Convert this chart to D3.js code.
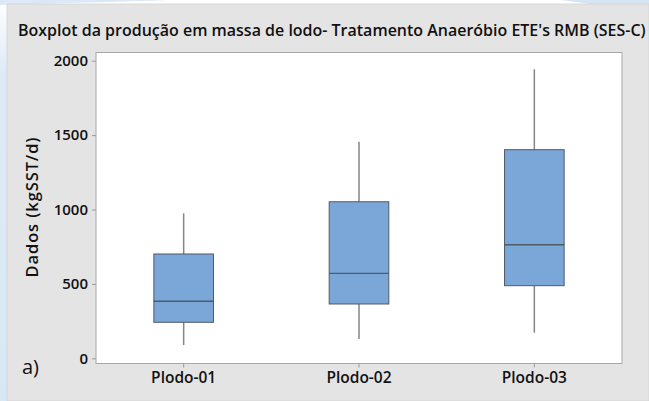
<!DOCTYPE html>
<html>
<head>
<meta charset="utf-8">
<script src="https://cdn.jsdelivr.net/npm/d3@7"></script>
<style>
  html, body { margin: 0; padding: 0; background: #ffffff; }
  svg { display: block; }
  text { font-family: "Open Sans", "DejaVu Sans", sans-serif; fill: #111; }
</style>
</head>
<body>
<svg id="chart" width="649" height="401"></svg>
<script>
// Sludge production summary per group (kgSST/d)
const categories = ["Plodo-01", "Plodo-02", "Plodo-03"];
const whiskerLow  = [89, 130, 172];
const quartile1   = [242, 365, 488];
const medians     = [383, 571, 763];
const quartile3   = [701, 1052, 1402];
const whiskerHigh = [974, 1456, 1942];
const yTicks = [0, 500, 1000, 1500, 2000];

const titleText = "Boxplot da produção em massa de lodo- Tratamento Anaeróbio ETE's RMB (SES-C)";
const yLabelText = "Dados (kgSST/d)";
const panelTag = "a)";

const W = 649, H = 401;
const plot = { left: 96, right: 622, top: 52.5, bottom: 363.5 };

const svg = d3.select("#chart");

// soft blue page glow behind the grey panel
const defs = svg.append("defs");
const g1 = defs.append("linearGradient").attr("id", "sideGlow").attr("x1", 0).attr("y1", 0).attr("x2", 0).attr("y2", 1);
g1.append("stop").attr("offset", "0%").attr("stop-color", "#ffffff");
g1.append("stop").attr("offset", "18%").attr("stop-color", "#dfeaf6");
g1.append("stop").attr("offset", "100%").attr("stop-color", "#d9e7f5");
svg.append("rect").attr("x", 0).attr("y", 0).attr("width", 8).attr("height", H).attr("fill", "url(#sideGlow)");
svg.append("path")
  .attr("d", "M0,0 L170,0 C120,2 60,3 0,5 Z")
  .attr("fill", "#dce8f5");
svg.append("path")
  .attr("d", "M560,0 L649,0 L649,30 C630,12 600,4 560,0 Z")
  .attr("fill", "#d6e5f4");

// grey chart panel
svg.append("rect")
  .attr("x", 7).attr("y", 4)
  .attr("width", W - 7).attr("height", H - 4)
  .attr("fill", "#e4e4e4")
  .attr("stroke", "#d2d2d2").attr("stroke-width", 0.8);

// scales
const x = d3.scaleBand()
  .domain(categories)
  .range([plot.left, plot.right])
  .paddingInner(0.66)
  .paddingOuter(0.33);

const y = d3.scaleLinear()
  .domain([0, 2000])
  .range([358.3, 60.7]);

// plot area
svg.append("rect")
  .attr("x", plot.left).attr("y", plot.top)
  .attr("width", plot.right - plot.left).attr("height", plot.bottom - plot.top)
  .attr("fill", "#ffffff")
  .attr("stroke", "#a8a8a8").attr("stroke-width", 1);

// y axis
const yAxis = svg.append("g")
  .attr("transform", `translate(${plot.left},0)`)
  .call(d3.axisLeft(y).tickValues(yTicks).tickSize(4).tickPadding(4).tickFormat(d3.format("d")));
yAxis.select(".domain").remove();
yAxis.selectAll(".tick line").attr("stroke", "#9a9a9a");
yAxis.selectAll(".tick text")
  .attr("font-size", 15).attr("font-weight", 600)
  .attr("font-family", "'Open Sans', sans-serif").attr("fill", "#111");

// x axis
const xAxis = svg.append("g")
  .attr("transform", `translate(0,${plot.bottom})`)
  .call(d3.axisBottom(x).tickSize(4).tickPadding(4));
xAxis.select(".domain").remove();
xAxis.selectAll(".tick line").attr("stroke", "#9a9a9a");
xAxis.selectAll(".tick text")
  .attr("font-size", 15.5).attr("font-weight", 600)
  .attr("font-family", "'Open Sans', sans-serif").attr("fill", "#111");

// boxes
const stats = categories.map((c, i) => ({
  cat: c, lo: whiskerLow[i], q1: quartile1[i], med: medians[i], q3: quartile3[i], hi: whiskerHigh[i]
}));

const box = svg.append("g").selectAll("g").data(stats).join("g");
const cx = d => x(d.cat) + x.bandwidth() / 2;

box.append("line")
  .attr("x1", cx).attr("x2", cx)
  .attr("y1", d => y(d.hi)).attr("y2", d => y(d.q3))
  .attr("stroke", "#858585").attr("stroke-width", 1.5);
box.append("line")
  .attr("x1", cx).attr("x2", cx)
  .attr("y1", d => y(d.q1)).attr("y2", d => y(d.lo))
  .attr("stroke", "#858585").attr("stroke-width", 1.5);
box.append("rect")
  .attr("x", d => x(d.cat)).attr("width", x.bandwidth())
  .attr("y", d => y(d.q3)).attr("height", d => y(d.q1) - y(d.q3))
  .attr("fill", "#7aa6d8")
  .attr("stroke", "#4f5b66").attr("stroke-width", 1);
box.append("line")
  .attr("x1", d => x(d.cat)).attr("x2", d => x(d.cat) + x.bandwidth())
  .attr("y1", d => y(d.med)).attr("y2", d => y(d.med))
  .attr("stroke", "#4f5b66").attr("stroke-width", 1.4);

// title, fitted to its span
const title = svg.append("text")
  .attr("x", 18).attr("y", 36)
  .attr("font-size", 14).attr("font-weight", 600)
  .text(titleText);
const tw = title.node().getComputedTextLength();
title.attr("font-size", 14 * 628 / tw);

// y label, spread to its span with a little letter spacing
const yLabel = svg.append("text")
  .attr("transform", "translate(38,207) rotate(-90)")
  .attr("text-anchor", "middle")
  .attr("font-size", 16.5).attr("font-weight", 600)
  .text(yLabelText);
const yw = yLabel.node().getComputedTextLength();
yLabel.attr("letter-spacing", Math.max(0, (140 - yw) / (yLabelText.length - 1)));

// panel tag
svg.append("text")
  .attr("x", 22).attr("y", 374)
  .attr("font-family", "'Liberation Sans', Arial, sans-serif")
  .attr("font-size", 20)
  .text(panelTag);
</script>
</body>
</html>
